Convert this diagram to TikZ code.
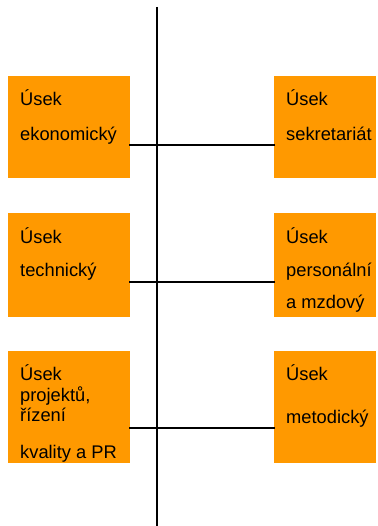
\documentclass[tikz,border=0pt]{standalone}
\usepackage{fontspec}
\setmainfont{Liberation Sans}
\definecolor{boxorange}{HTML}{FF9900}
\begin{document}
\begin{tikzpicture}[x=1pt,y=-1pt,
  unitbox/.style={fill=boxorange,draw=none},
  lbl/.style={anchor=base west,inner sep=0pt,font=\fontsize{18.3}{20}\selectfont},
  conn/.style={line width=2pt,black}]
\useasboundingbox (0,0) rectangle (377,526);
% boxes
\fill[unitbox] (8,76) rectangle (130,178);
\fill[unitbox] (274,76) rectangle (376,178);
\fill[unitbox] (8,213) rectangle (130,317);
\fill[unitbox] (274,213) rectangle (376,317);
\fill[unitbox] (8,351) rectangle (130,463);
\fill[unitbox] (274,351) rectangle (376,463);
% anchor coordinates
\coordinate (top) at (157,7);
\coordinate (bot) at (157,526);
\coordinate (l1) at (129,145);
\coordinate (r1) at (275,145);
\coordinate (l2) at (129,282);
\coordinate (r2) at (275,282);
\coordinate (l3) at (129,428);
\coordinate (r3) at (275,428);
\draw[conn] (top) -- (bot);
\draw[conn] (l1) -- (r1);
\draw[conn] (l2) -- (r2);
\draw[conn] (l3) -- (r3);
% texts
\node[lbl] (t1a) at (20,106) {Úsek};
\node[lbl] (t1b) at (20,140.5) {ekonomický};
\node[lbl] (t2a) at (286,106) {Úsek};
\node[lbl] (t2b) at (286,140.5) {sekretariát};
\node[lbl] (t3a) at (20,243.3) {Úsek};
\node[lbl] (t3b) at (20,276) {technický};
\node[lbl] (t4a) at (286,243.3) {Úsek};
\node[lbl] (t4b) at (286,276) {personální};
\node[lbl] (t4c) at (286,308.5) {a mzdový};
\node[lbl] (t5a) at (20,380) {Úsek};
\node[lbl] (t5b) at (20,401.7) {projektů,};
\node[lbl] (t5c) at (20,421.7) {řízení};
\node[lbl] (t5d) at (20,458.3) {kvality a PR};
\node[lbl] (t6a) at (286,380) {Úsek};
\node[lbl] (t6b) at (286,423.3) {metodický};
\end{tikzpicture}
\end{document}
